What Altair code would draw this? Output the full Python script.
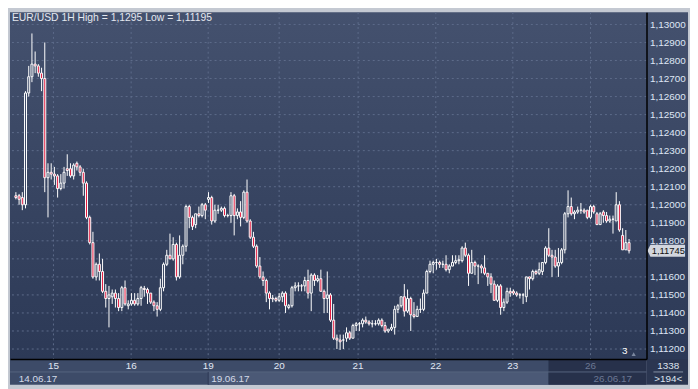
import altair as alt
import pandas as pd

# ---------------- data (EUR/USD 1H) ----------------
opens = [1.1205, 1.1205, 1.1204, 1.1200, 1.1262, 1.1271, 1.1278, 1.1277, 1.1273, 1.1270,
         1.1215, 1.1218, 1.1217, 1.1216, 1.1209, 1.1212, 1.1220, 1.1220, 1.1216, 1.1223,
         1.1221, 1.1218, 1.1212, 1.1193, 1.1179, 1.1160, 1.1167, 1.1163, 1.1152, 1.1148,
         1.1149, 1.1151, 1.1148, 1.1143, 1.1154, 1.1144, 1.1145, 1.1147, 1.1145, 1.1148,
         1.11536, 1.1153, 1.1151, 1.1146, 1.1144, 1.1142, 1.1154, 1.1167, 1.1172, 1.1170,
         1.1178, 1.1160, 1.1172, 1.1177, 1.1199, 1.1193, 1.1189, 1.1195, 1.1194, 1.1200,
         1.1203, 1.1204, 1.1191, 1.1197, 1.1197, 1.1198, 1.1194, 1.1194, 1.1205, 1.1194,
         1.1196, 1.1193, 1.1207, 1.1191, 1.1182, 1.1177, 1.1166, 1.1160, 1.1158, 1.1151,
         1.11482, 1.1148, 1.1147, 1.1149, 1.1151, 1.1143, 1.1144, 1.1154, 1.1155, 1.1155,
         1.1155, 1.1158, 1.1151, 1.1161, 1.1158, 1.1159, 1.1152, 1.1148, 1.1150, 1.1136,
         1.1126, 1.1125, 1.1125, 1.1126, 1.1129, 1.1126, 1.1133, 1.1134, 1.1134, 1.1136,
         1.1135, 1.1134, 1.1134, 1.1134, 1.1136, 1.1133, 1.1130, 1.1131, 1.1132, 1.1142,
         1.1144, 1.1149, 1.1141, 1.1148, 1.1139, 1.1138, 1.1142, 1.1142, 1.1151, 1.1163,
         1.1167, 1.1168, 1.1168, 1.1167, 1.1167, 1.1164, 1.1166, 1.1168, 1.1169, 1.1169,
         1.1176, 1.1172, 1.1162, 1.1168, 1.1166, 1.1166, 1.1165, 1.1162, 1.1160, 1.1156,
         1.1147, 1.1155, 1.1143, 1.1146, 1.1152, 1.1152, 1.1151, 1.1150, 1.1150, 1.1149,
         1.1160, 1.1159, 1.1163, 1.1162, 1.1163, 1.1168, 1.1176, 1.1172, 1.1171, 1.1166,
         1.1168, 1.1175, 1.1195, 1.1199, 1.1195, 1.1196, 1.1197, 1.1197, 1.1197, 1.1193,
         1.1199, 1.1195, 1.1189, 1.1196, 1.1194, 1.1191, 1.1192, 1.1191, 1.1200, 1.1183,
         1.1175, 1.1179]
highs = [1.1207, 1.1206, 1.1207, 1.1263, 1.1277, 1.1295, 1.1285, 1.1278, 1.1276, 1.1290,
         1.1223, 1.1223, 1.1221, 1.1217, 1.1217, 1.1221, 1.1228, 1.1223, 1.1223, 1.1224,
         1.1222, 1.1220, 1.1213, 1.1194, 1.1185, 1.1168, 1.1173, 1.1170, 1.1156, 1.1155,
         1.1153, 1.1153, 1.1151, 1.1155, 1.1158, 1.1147, 1.1151, 1.1151, 1.1151, 1.1155,
         1.1155, 1.1154, 1.1151, 1.1147, 1.1146, 1.1159, 1.1168, 1.1175, 1.1184, 1.1182,
         1.1179, 1.1183, 1.1178, 1.1200, 1.1200, 1.1194, 1.1195, 1.1199, 1.1201, 1.1201,
         1.1207, 1.1205, 1.1200, 1.1200, 1.1199, 1.1199, 1.1195, 1.1207, 1.1206, 1.1198,
         1.1202, 1.1208, 1.1214, 1.1192, 1.1185, 1.1178, 1.1171, 1.1163, 1.1159, 1.1152,
         1.1150, 1.1149, 1.1151, 1.1152, 1.1152, 1.1145, 1.1155, 1.1157, 1.1157, 1.1156,
         1.1160, 1.1164, 1.1162, 1.1162, 1.1161, 1.1164, 1.1153, 1.1163, 1.1151, 1.1145,
         1.1128, 1.1128, 1.1128, 1.1132, 1.1130, 1.1134, 1.1135, 1.1135, 1.1137, 1.1138,
         1.1136, 1.1136, 1.1136, 1.1137, 1.1137, 1.1135, 1.1131, 1.1134, 1.1144, 1.1145,
         1.1149, 1.1156, 1.1153, 1.1149, 1.1146, 1.1144, 1.1148, 1.1153, 1.1164, 1.1169,
         1.1169, 1.1170, 1.1169, 1.1169, 1.1172, 1.1167, 1.1172, 1.1172, 1.1172, 1.1177,
         1.1179, 1.1173, 1.1175, 1.1169, 1.1167, 1.1167, 1.1172, 1.1162, 1.1162, 1.1158,
         1.1156, 1.1156, 1.1148, 1.1154, 1.1154, 1.1153, 1.1152, 1.1151, 1.1151, 1.1160,
         1.1160, 1.1164, 1.1164, 1.1168, 1.1168, 1.1177, 1.1187, 1.1175, 1.1175, 1.1176,
         1.1176, 1.1196, 1.1208, 1.1204, 1.1197, 1.1199, 1.1201, 1.1198, 1.1197, 1.1200,
         1.1200, 1.1196, 1.1196, 1.1197, 1.1196, 1.1194, 1.1194, 1.1207, 1.1202, 1.1187,
         1.1186, 1.1181]
lows = [1.1203, 1.1200, 1.1197, 1.1198, 1.1260, 1.1268, 1.1273, 1.1271, 1.1263, 1.1207,
        1.1193, 1.1214, 1.1211, 1.1204, 1.1208, 1.1209, 1.1216, 1.1215, 1.1214, 1.1219,
        1.1216, 1.1205, 1.1192, 1.1178, 1.1159, 1.1158, 1.1158, 1.1151, 1.1143, 1.1132,
        1.1145, 1.1143, 1.1141, 1.1141, 1.1144, 1.1142, 1.1144, 1.1144, 1.1144, 1.1144,
        1.1149, 1.1145, 1.1145, 1.1141, 1.1138, 1.1141, 1.1152, 1.1166, 1.1170, 1.1169,
        1.1158, 1.1159, 1.1167, 1.1174, 1.1187, 1.1186, 1.1187, 1.1193, 1.1193, 1.1192,
        1.1201, 1.1189, 1.1190, 1.1195, 1.1196, 1.1193, 1.1193, 1.1190, 1.1183, 1.1192,
        1.1188, 1.1192, 1.1190, 1.1181, 1.1176, 1.1165, 1.1159, 1.1155, 1.1146, 1.1142,
        1.1146, 1.1146, 1.1146, 1.1146, 1.1140, 1.1142, 1.1143, 1.1152, 1.1152, 1.1152,
        1.1152, 1.1148, 1.1141, 1.1155, 1.1157, 1.1152, 1.1140, 1.1140, 1.1135, 1.1125,
        1.1120, 1.11195, 1.1120, 1.1124, 1.1125, 1.1126, 1.1130, 1.1130, 1.1132, 1.1134,
        1.1133, 1.1132, 1.1133, 1.1133, 1.1132, 1.1129, 1.1129, 1.1130, 1.1128, 1.1140,
        1.1143, 1.1138, 1.1140, 1.1130, 1.1137, 1.1138, 1.1140, 1.1141, 1.1151, 1.1162,
        1.1162, 1.1164, 1.1165, 1.1165, 1.1163, 1.1162, 1.1166, 1.1167, 1.1167, 1.1168,
        1.1171, 1.1155, 1.1162, 1.1161, 1.1156, 1.1162, 1.1161, 1.1155, 1.1151, 1.1147,
        1.1146, 1.1139, 1.1141, 1.1145, 1.1149, 1.1150, 1.1149, 1.1148, 1.1145, 1.1146,
        1.1153, 1.1158, 1.1161, 1.1161, 1.1161, 1.1167, 1.1171, 1.1160, 1.1165, 1.1160,
        1.1167, 1.1173, 1.1193, 1.1194, 1.1192, 1.1195, 1.1195, 1.1195, 1.1192, 1.1192,
        1.1195, 1.1189, 1.1189, 1.1190, 1.1190, 1.1190, 1.1184, 1.1191, 1.1185, 1.1175,
        1.1175, 1.1173]
closes = [1.1204, 1.1203, 1.1200, 1.1262, 1.1271, 1.1278, 1.1277, 1.1273, 1.1270, 1.1215,
          1.1218, 1.1217, 1.1216, 1.1209, 1.1212, 1.1218, 1.1219, 1.1216, 1.1222, 1.1221,
          1.1218, 1.1212, 1.1193, 1.1179, 1.1160, 1.1167, 1.1163, 1.1152, 1.1148, 1.1150,
          1.1151, 1.1148, 1.1143, 1.1154, 1.1145, 1.1145, 1.1147, 1.1145, 1.1148, 1.1154,
          1.1153, 1.1151, 1.1146, 1.1144, 1.1142, 1.1154, 1.1167, 1.1172, 1.1170, 1.1178,
          1.1160, 1.1172, 1.1177, 1.1199, 1.1193, 1.1188, 1.1195, 1.1194, 1.1200, 1.1197,
          1.1204, 1.1191, 1.1197, 1.1197, 1.1198, 1.1194, 1.1194, 1.1205, 1.1194, 1.1196,
          1.1193, 1.1207, 1.1191, 1.1182, 1.1177, 1.1166, 1.1160, 1.1158, 1.1151, 1.1148,
          1.11478, 1.1147, 1.1149, 1.1151, 1.1144, 1.1144, 1.1154, 1.1155, 1.1155, 1.1155,
          1.1158, 1.1151, 1.1161, 1.1158, 1.1159, 1.1152, 1.1148, 1.1150, 1.1136, 1.1126,
          1.1125, 1.1124, 1.1125, 1.1129, 1.1126, 1.1133, 1.1134, 1.1134, 1.1136, 1.1135,
          1.1134, 1.1134, 1.1134, 1.1136, 1.1133, 1.1130, 1.1131, 1.1132, 1.1142, 1.1144,
          1.1149, 1.1141, 1.1148, 1.1139, 1.1138, 1.1142, 1.1142, 1.1151, 1.1163, 1.1167,
          1.1168, 1.1168, 1.1167, 1.1167, 1.1164, 1.1166, 1.1168, 1.1169, 1.11695, 1.1176,
          1.1172, 1.1162, 1.1168, 1.1166, 1.1166, 1.1165, 1.1162, 1.1160, 1.1156, 1.1147,
          1.1155, 1.1143, 1.1146, 1.1152, 1.1151, 1.1151, 1.1150, 1.1150, 1.1150, 1.1160,
          1.1159, 1.1163, 1.1162, 1.1164, 1.1168, 1.1176, 1.1172, 1.1171, 1.1166, 1.1168,
          1.1175, 1.1195, 1.1199, 1.1195, 1.1196, 1.1197, 1.1197, 1.1196, 1.1193, 1.1199,
          1.1196, 1.1189, 1.1195, 1.1194, 1.1191, 1.1192, 1.1192, 1.1200, 1.1186, 1.1175,
          1.1179, 1.11745]

price_ticks = [1.112, 1.113, 1.114, 1.115, 1.116, 1.117, 1.118, 1.119, 1.120, 1.121,
               1.122, 1.123, 1.124, 1.125, 1.126, 1.127, 1.128, 1.129, 1.130]
day_labels = ["15", "16", "19", "20", "21", "22", "23", "26"]
day_pos = [11.7, 35.9, 59.9, 82.0, 106.6, 130.8, 154.8, 179.0]
date_labels = ["14.06.17", "19.06.17", "26.06.17"]
date_pos = [0.0, 59.9, 179.0]
scroll_start = 165.9
bars_label = "1338"
count_label = ">194<"
page_label = "3"

# ---------------- helpers ----------------
def fmt(v):
    return f"{v:.5f}".rstrip("0").replace(".", ",")

title_text = f"EUR/USD 1H High = {fmt(max(highs))} Low = {fmt(min(lows))}"
last_close = closes[-1]

W, H = 644, 351
RW = 42       # right price panel
BH = 26       # bottom time panel
FONT = "Liberation Sans"
FS = 10

df = pd.DataFrame({"i": list(range(len(opens))), "o": opens, "h": highs, "l": lows, "c": closes})
one = pd.DataFrame({"k": [0]})

x_scale = alt.Scale(domain=[-0.3, 194.9], nice=False, zero=False)
y_scale = alt.Scale(domain=[1.11144, 1.13068], nice=False, zero=False)

ax_x = alt.Axis(orient="bottom", labels=False, ticks=False, grid=False, title=None,
                domainColor="#000000", domainWidth=1.5, zindex=1)
# the label hidden under the last-price tag (as in the reference, where the tag covers it)
ax_y = alt.Axis(orient="right", values=price_ticks, ticks=False, grid=False, title=None,
                domainColor="#000000", domainWidth=1.5, zindex=1,
                labelExpr=f"abs(datum.value - {last_close}) < 0.0005 ? '' : replace(format(datum.value, '.5f'), '.', ',')",
                labelColor="#dfe7f5", labelFont=FONT, labelFontSize=FS, labelPadding=3,
                labelOverlap=False, labelFlush=False)

X = lambda f: alt.X(f, type="quantitative", scale=x_scale, axis=ax_x)
Y = lambda f: alt.Y(f, type="quantitative", scale=y_scale, axis=ax_y)

grad = alt.LinearGradient(gradient="linear",
                          stops=[alt.GradientStop(color="#44516e", offset=0),
                                 alt.GradientStop(color="#2c3956", offset=1)],
                          x1=0, x2=0, y1=0, y2=1)

# ---------------- background panels ----------------
bg = alt.Chart(one).mark_rect(fill=grad).encode(
    x=alt.value(0), x2=alt.value(W + RW), y=alt.value(0), y2=alt.value(H))
bottom_rows = alt.Chart(one).mark_rect(fill="#3d4b68").encode(
    x=alt.value(0), x2=alt.value(W), y=alt.value(H), y2=alt.value(H + BH))
corner = alt.Chart(one).mark_rect(fill="#2b3651").encode(
    x=alt.value(W), x2=alt.value(W + RW), y=alt.value(H), y2=alt.value(H + BH))

blocks = pd.DataFrame({"a": [date_pos[1]], "b": [scroll_start]})
light_block = alt.Chart(blocks).mark_rect(fill="#4b5976").encode(
    x=X("a"), x2="b:Q", y=alt.value(H + 13), y2=alt.value(H + BH))
dark_block = alt.Chart(blocks).mark_rect(fill="#27314b").encode(
    x=X("b"), x2=alt.value(W), y=alt.value(H + 1), y2=alt.value(H + BH))
row_sep = alt.Chart(one).mark_rule(color="#56647f", strokeWidth=1).encode(
    x=alt.value(0), x2=alt.value(W), y=alt.value(H + 13))

# ---------------- grid ----------------
grid_color = "#5d6b8a"
hgrid = alt.Chart(pd.DataFrame({"p": price_ticks})).mark_rule(
    color=grid_color, strokeDash=[2, 3], strokeWidth=1).encode(y=Y("p"))
days_df = pd.DataFrame({"pos": day_pos, "lab": day_labels,
                        "dim": [False] * (len(day_labels) - 1) + [True]})
vgrid = alt.Chart(days_df).mark_rule(
    color=grid_color, strokeDash=[2, 3], strokeWidth=1).encode(x=X("pos"))

# ---------------- candles ----------------
base = alt.Chart(df).transform_calculate(
    top="max(datum.o, datum.c)", bot="min(datum.o, datum.c)")
wick_up = base.mark_rule(color="#ffffff", strokeWidth=1).encode(
    x=X("i"), y=Y("h"), y2="top:Q")
wick_dn = base.mark_rule(color="#ffffff", strokeWidth=1).encode(
    x=X("i"), y=Y("bot"), y2="l:Q")
body = base.mark_bar(size=2, stroke="#ffffff", strokeWidth=1).encode(
    x=X("i"), y=Y("bot"), y2="top:Q",
    fill=alt.condition("datum.c < datum.o", alt.value("#e3143a"), alt.value("rgba(0,0,0,0)")))

# ---------------- texts ----------------
title = alt.Chart(one).mark_text(text=title_text, align="left", baseline="middle",
                                 color="#e3e7ef", font=FONT, fontSize=10.5).encode(
    x=alt.value(2), y=alt.value(6))

day_text = alt.Chart(days_df).mark_text(baseline="middle", align="center",
                                        font=FONT, fontSize=FS).encode(
    x=X("pos"), y=alt.value(H + 7), text="lab:N",
    color=alt.condition("datum.dim", alt.value("#6c7894"), alt.value("#e0e7f3")))
dates_df = pd.DataFrame({"pos": date_pos, "lab": date_labels,
                         "dim": [False] * (len(date_labels) - 1) + [True]})
date_text = alt.Chart(dates_df).mark_text(baseline="middle", align="left", dx=3,
                                          font=FONT, fontSize=FS).encode(
    x=X("pos"), y=alt.value(H + 20), text="lab:N",
    color=alt.condition("datum.dim", alt.value("#6c7894"), alt.value("#d3dae8")))
date_sep = alt.Chart(pd.DataFrame({"pos": [date_pos[1]]})).mark_rule(
    color="#2e3954", strokeWidth=1).encode(x=X("pos"), y=alt.value(H + 13), y2=alt.value(H + BH))

tag_df = pd.DataFrame({"p": [last_close], "t": [fmt(last_close)]})
tag = alt.Chart(tag_df).mark_point(
    shape="M -3.17 0 L -2.67 -1 L 3.17 -1 L 3.17 1 L -2.67 1 Z",
    size=144, filled=True, fill="#d2d6de", opacity=1, strokeWidth=0).encode(
    x=alt.value(W + 20), y=Y("p"))
tag_text = alt.Chart(tag_df).mark_text(align="center", baseline="middle", color="#111111",
                                       font=FONT, fontSize=9.5).encode(
    x=alt.value(W + 22), y=Y("p"), text="t:N")

corner_top = alt.Chart(one).mark_text(text=bars_label, align="center", baseline="middle",
                                      color="#dde3ee", font=FONT, fontSize=FS).encode(
    x=alt.value(W + 22), y=alt.value(H + 7))
corner_bot = alt.Chart(one).mark_text(text=count_label, align="center", baseline="middle",
                                      color="#dde3ee", font=FONT, fontSize=FS).encode(
    x=alt.value(W + 22), y=alt.value(H + 20))
corner_line = alt.Chart(one).mark_rule(color="#8791a6", strokeWidth=1).encode(
    x=alt.value(W + 7), x2=alt.value(W + 37), y=alt.value(H + 13))

page_txt = alt.Chart(one).mark_text(text=page_label, align="center", baseline="middle",
                                    color="#ffffff", font=FONT, fontSize=FS).encode(
    x=alt.value(W - 22), y=alt.value(H - 8))
page_tri = alt.Chart(one).mark_point(shape="triangle-up", size=18, filled=True,
                                     color="#7c889f", opacity=1).encode(
    x=alt.value(W - 13), y=alt.value(H - 5))

chart = alt.layer(
    bg, bottom_rows, corner, light_block, dark_block, row_sep, date_sep,
    hgrid, vgrid,
    wick_up, wick_dn, body,
    title, day_text, date_text, tag, tag_text,
    corner_top, corner_bot, corner_line, page_txt, page_tri,
).properties(
    width=W, height=H,
    padding={"left": 2, "top": 2, "right": RW + 2, "bottom": BH + 2},
    autosize=alt.AutoSizeParams(type="none"),
    background="#c4c9d2",
).configure_view(stroke=None)

chart.save("out.html", embed_options={"renderer": "svg", "actions": False})
